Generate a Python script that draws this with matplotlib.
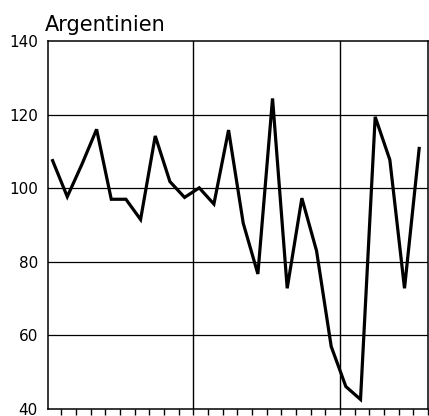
import matplotlib
matplotlib.use("Agg")
import matplotlib.pyplot as plt
import numpy as np

title = "Argentinien"
x_index = list(range(26))
values = [107.5, 97.7, 106.5, 116.0, 97.0, 97.0, 91.5, 114.2, 101.8, 97.5,
          100.1, 95.7, 115.8, 90.5, 76.7, 124.4, 72.8, 97.3, 83.0, 57.0,
          46.1, 42.6, 119.4, 107.7, 72.8, 110.8]
y_ticks = [40, 60, 80, 100, 120, 140]
h_grid = [60, 80, 100, 120]
v_grid = [9.6, 19.6]
x_minor_ticks = [k + 0.6 for k in range(26)]

fig = plt.figure(figsize=(4.29, 4.16), dpi=100)
ax = fig.add_axes([0.111, 0.0168, 0.8866, 0.8846])

for yv in h_grid:
    ax.axhline(yv, color="black", lw=0.9, zorder=1)
for xv in v_grid:
    ax.axvline(xv, color="black", lw=1.0, zorder=1)

ax.plot(x_index, values, color="black", lw=2.3, solid_joinstyle="miter", zorder=3)

ax.set_xlim(-0.34, 25.6)
ax.set_ylim(40, 140)
ax.set_yticks(y_ticks)
ax.set_yticklabels([str(v) for v in y_ticks], fontsize=11, family="DejaVu Sans")
ax.tick_params(axis="y", length=0, pad=7)
ax.set_xticks(x_minor_ticks)
ax.set_xticklabels([])
ax.tick_params(axis="x", direction="out", length=4, width=1.0, color="black")
for s in ax.spines.values():
    s.set_linewidth(1.1)
    s.set_color("black")

fig.text(0.104, 0.925, title, fontsize=15, family="DejaVu Sans", ha="left", va="baseline")

fig.savefig("out.png", dpi=100)
